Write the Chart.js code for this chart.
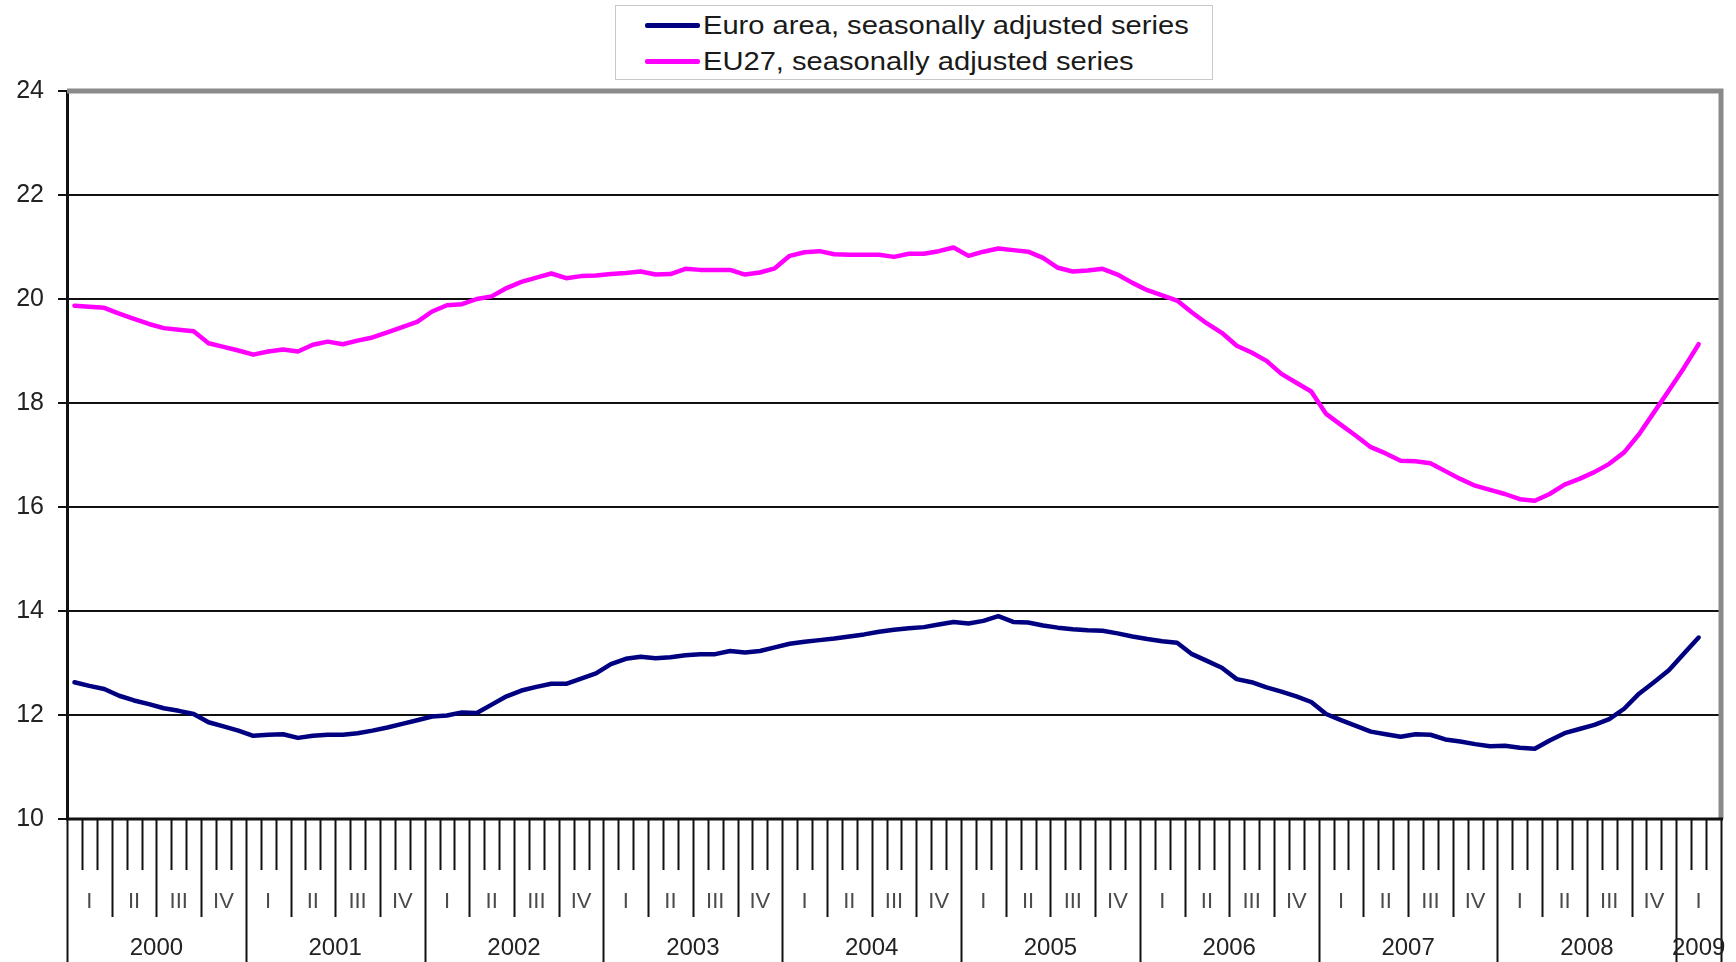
<!DOCTYPE html>
<html>
<head>
<meta charset="utf-8">
<script src="https://cdn.jsdelivr.net/npm/chart.js@4/dist/chart.umd.min.js"></script>
<style>
  body { margin: 0; background: #fff; }
  #wrap { position: relative; width: 1736px; height: 962px; overflow: hidden; }
  #legend {
    position: absolute; left: 615px; top: 5px; width: 596px; height: 73px;
    border: 1px solid #c8c8c8; background: #fff;
    font-family: Arial, "Liberation Sans", sans-serif; font-size: 25px; color: #1a1a1a;
  }
  .item { position: absolute; left: 29px; height: 30px; display: flex; align-items: center; }
  .swatch { width: 55px; height: 5px; border-radius: 2px; margin-right: 3px; }
  .item span { display: inline-block; transform: scaleX(1.165); transform-origin: left center; white-space: nowrap; }
</style>
</head>
<body>
<div id="wrap">
  <canvas id="chart" width="1736" height="962"></canvas>
  <div id="legend"></div>
</div>
<script>
// Monthly categories, Jan 2000 .. Mar 2009 (no value yet for the last month).
const years = ['2000', '2001', '2002', '2003', '2004', '2005', '2006', '2007', '2008', '2009'];
const quarterLabels = ['I', 'II', 'III', 'IV'];
const months = [];
years.forEach(y => {
  const last = y === '2009' ? 3 : 12;
  for (let m = 1; m <= last; m++) months.push(`${y}M${String(m).padStart(2, '0')}`);
});

const yTicks = { min: 10, max: 24, step: 2 };

// Euro area, seasonally adjusted (%)
const euroArea = [
  12.63, 12.56, 12.50, 12.37, 12.28, 12.21, 12.13, 12.08, 12.02, 11.86, 11.78, 11.70,
  11.60, 11.62, 11.63, 11.56, 11.60, 11.62, 11.62, 11.65, 11.70, 11.76, 11.83, 11.90,
  11.97, 11.99, 12.05, 12.04, 12.20, 12.36, 12.47, 12.54, 12.60, 12.60, 12.70, 12.80,
  12.98, 13.08, 13.12, 13.09, 13.11, 13.15, 13.17, 13.17, 13.23, 13.20, 13.23, 13.30,
  13.37, 13.41, 13.44, 13.47, 13.51, 13.55, 13.60, 13.64, 13.67, 13.69, 13.74, 13.79,
  13.76, 13.81, 13.90, 13.79, 13.78, 13.72, 13.68, 13.65, 13.63, 13.62, 13.57, 13.51,
  13.46, 13.42, 13.39, 13.17, 13.04, 12.91, 12.69, 12.63, 12.53, 12.45, 12.36, 12.25,
  12.02, 11.90, 11.79, 11.68, 11.63, 11.58, 11.63, 11.62, 11.53, 11.49, 11.44, 11.40,
  11.41, 11.37, 11.35, 11.51, 11.65, 11.73, 11.81, 11.92, 12.12, 12.41, 12.63, 12.86,
  13.18, 13.49, null
];

// EU27, seasonally adjusted (%)
const eu27 = [
  19.87, 19.85, 19.83, 19.72, 19.62, 19.52, 19.44, 19.41, 19.38, 19.15, 19.08, 19.01,
  18.93, 18.99, 19.03, 18.99, 19.12, 19.18, 19.13, 19.20, 19.26, 19.36, 19.46, 19.56,
  19.76, 19.88, 19.90, 20.00, 20.05, 20.21, 20.33, 20.41, 20.49, 20.40, 20.44, 20.45,
  20.48, 20.50, 20.53, 20.47, 20.48, 20.58, 20.56, 20.56, 20.56, 20.47, 20.51, 20.59,
  20.83, 20.90, 20.92, 20.86, 20.85, 20.85, 20.85, 20.81, 20.87, 20.87, 20.92, 20.99,
  20.83, 20.91, 20.97, 20.94, 20.91, 20.79, 20.60, 20.53, 20.55, 20.58, 20.47, 20.31,
  20.17, 20.07, 19.97, 19.74, 19.53, 19.35, 19.10, 18.97, 18.81, 18.56, 18.39, 18.22,
  17.79, 17.58, 17.37, 17.15, 17.03, 16.89, 16.88, 16.84, 16.69, 16.54, 16.41, 16.33,
  16.25, 16.15, 16.12, 16.25, 16.43, 16.54, 16.67, 16.83, 17.05, 17.40, 17.82, 18.24,
  18.67, 19.13, null
];

const FONT = 'Arial, "Liberation Sans", sans-serif';

/**
 * Draws the Excel-style plot frame and the three-level time axis
 * (month ticks, quarter labels, year labels) from the x scale.
 */
const timeAxisPlugin = {
  id: 'timeAxis',
  afterDatasetsDraw(chart) {
    const { ctx, chartArea: area, scales: { x } } = chart;
    const step = x.getPixelForValue(1) - x.getPixelForValue(0);
    const edge = i => x.getPixelForValue(i) - step / 2;
    const n = months.length;
    const bottom = chart.height;

    ctx.save();
    // grey top and right frame
    ctx.strokeStyle = '#8a8a8a';
    ctx.lineWidth = 5;
    ctx.beginPath();
    ctx.moveTo(area.left, area.top);
    ctx.lineTo(area.right, area.top);
    ctx.lineTo(area.right, area.bottom);
    ctx.stroke();

    // bottom axis line
    ctx.strokeStyle = '#111';
    ctx.lineWidth = 3;
    ctx.beginPath();
    ctx.moveTo(area.left - 1, area.bottom);
    ctx.lineTo(area.right + 2, area.bottom);
    ctx.stroke();

    // tick marks at every month boundary
    ctx.lineWidth = 2;
    for (let i = 0; i <= n; i++) {
      const px = Math.round(edge(i)) + 0.5;
      let len = 51;
      if (i % 12 === 0 || i === n) len = bottom - area.bottom;
      else if (i % 3 === 0) len = 98;
      ctx.beginPath();
      ctx.moveTo(px, area.bottom);
      ctx.lineTo(px, area.bottom + len);
      ctx.stroke();
    }

    // quarter labels
    ctx.textAlign = 'center';
    ctx.textBaseline = 'middle';
    ctx.fillStyle = '#4a4a4a';
    ctx.font = `22px ${FONT}`;
    for (let q = 0; q * 3 < n; q++) {
      const cx = (edge(q * 3) + edge(Math.min(q * 3 + 3, n))) / 2;
      ctx.fillText(quarterLabels[q % 4], cx, area.bottom + 83);
    }

    // year labels
    ctx.fillStyle = '#222';
    ctx.font = `24px ${FONT}`;
    years.forEach((y, k) => {
      const cx = (edge(k * 12) + edge(Math.min(k * 12 + 12, n))) / 2;
      ctx.fillText(y, cx, area.bottom + 129);
    });
    ctx.restore();
  }
};

const chart = new Chart(document.getElementById('chart').getContext('2d'), {
  type: 'line',
  data: {
    labels: months,
    datasets: [
      { label: 'Euro area, seasonally adjusted series', data: euroArea, borderColor: '#000080', borderWidth: 4.5 },
      { label: 'EU27, seasonally adjusted series', data: eu27, borderColor: '#ff00ff', borderWidth: 4.5 }
    ]
  },
  options: {
    responsive: false,
    animation: false,
    layout: { padding: { top: 91, right: 15, left: 0, bottom: 0 } },
    elements: { point: { radius: 0 }, line: { tension: 0, borderJoinStyle: 'round', borderCapStyle: 'round' } },
    plugins: { legend: { display: false }, tooltip: { enabled: false } },
    scales: {
      x: {
        type: 'category',
        offset: true,
        grid: { display: false },
        border: { display: false },
        ticks: { display: false },
        afterFit: s => { s.height = 143; }
      },
      y: {
        min: yTicks.min,
        max: yTicks.max,
        ticks: { stepSize: yTicks.step, padding: 14, color: '#222', font: { family: FONT, size: 25 } },
        grid: { color: '#111', lineWidth: 2, tickLength: 9, tickColor: '#111', tickWidth: 2 },
        border: { color: '#111', width: 3 },
        afterFit: s => { s.width = 67; }
      }
    }
  },
  plugins: [timeAxisPlugin]
});

// HTML legend built from the datasets.
const legend = document.getElementById('legend');
chart.data.datasets.forEach((ds, i) => {
  const row = document.createElement('div');
  row.className = 'item';
  row.style.top = `${4 + i * 36}px`;
  row.innerHTML = `<div class="swatch" style="background:${ds.borderColor}"></div><span>${ds.label}</span>`;
  legend.appendChild(row);
});
</script>
</body>
</html>
